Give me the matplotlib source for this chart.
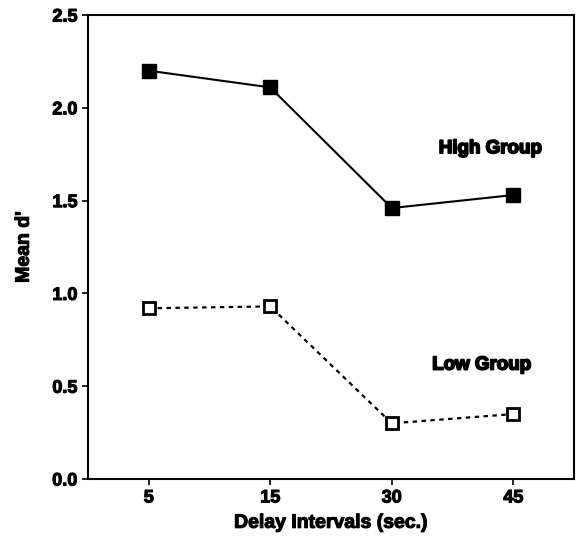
import numpy as np
import matplotlib
matplotlib.use('Agg')
import matplotlib.pyplot as plt
import matplotlib.patheffects as pe

delays = ['5', '15', '30', '45']
high_group = [2.20, 2.11, 1.46, 1.53]
low_group = [0.92, 0.93, 0.30, 0.35]
y_ticks = [0.0, 0.5, 1.0, 1.5, 2.0, 2.5]

plt.rcParams['font.family'] = ['Liberation Sans', 'DejaVu Sans']
plt.rcParams['font.weight'] = 'bold'

heavy = [pe.withStroke(linewidth=1.3, foreground='black')]

fig = plt.figure(figsize=(5.77, 5.36), dpi=100)
ax = fig.add_axes([0.1525, 0.1063, 0.8423, 0.8657])

x = np.arange(len(delays))
ax.plot(x, high_group, 'k-', lw=1.5, marker='s', ms=9.5, mfc='black', mec='black')
ax.plot(x, low_group, color='black', ls=(0, (2, 2)), lw=1.6, marker='s', ms=8.5,
        mfc='white', mec='black', mew=2)

ax.text(2.81, 1.78, 'High Group', ha='center', va='center', fontsize=13.5,
        fontweight='heavy', path_effects=heavy)
ax.text(2.74, 0.614, 'Low Group', ha='center', va='center', fontsize=13.5,
        fontweight='heavy', path_effects=heavy)

ax.set_xlim(-0.5, 3.5)
ax.set_ylim(0, 2.5)
ax.set_xticks(x)
ax.set_xticklabels(delays)
ax.set_yticks(y_ticks)
ax.set_yticklabels(['%.1f' % v for v in y_ticks])
ax.tick_params(labelsize=13, width=1.2, length=4, direction='out')
for lbl in ax.get_xticklabels() + ax.get_yticklabels():
    lbl.set_fontweight('bold')
    lbl.set_path_effects([pe.withStroke(linewidth=0.8, foreground='black')])
for s in ax.spines.values():
    s.set_linewidth(1.5)

ax.set_xlabel('Delay Intervals (sec.)', fontsize=14, fontweight='bold', labelpad=6,
              path_effects=[pe.withStroke(linewidth=0.8, foreground='black')])
ax.set_ylabel("Mean d'", fontsize=14, fontweight='bold', labelpad=14,
              path_effects=[pe.withStroke(linewidth=0.8, foreground='black')])

plt.savefig('out.png', dpi=100)
plt.close()
